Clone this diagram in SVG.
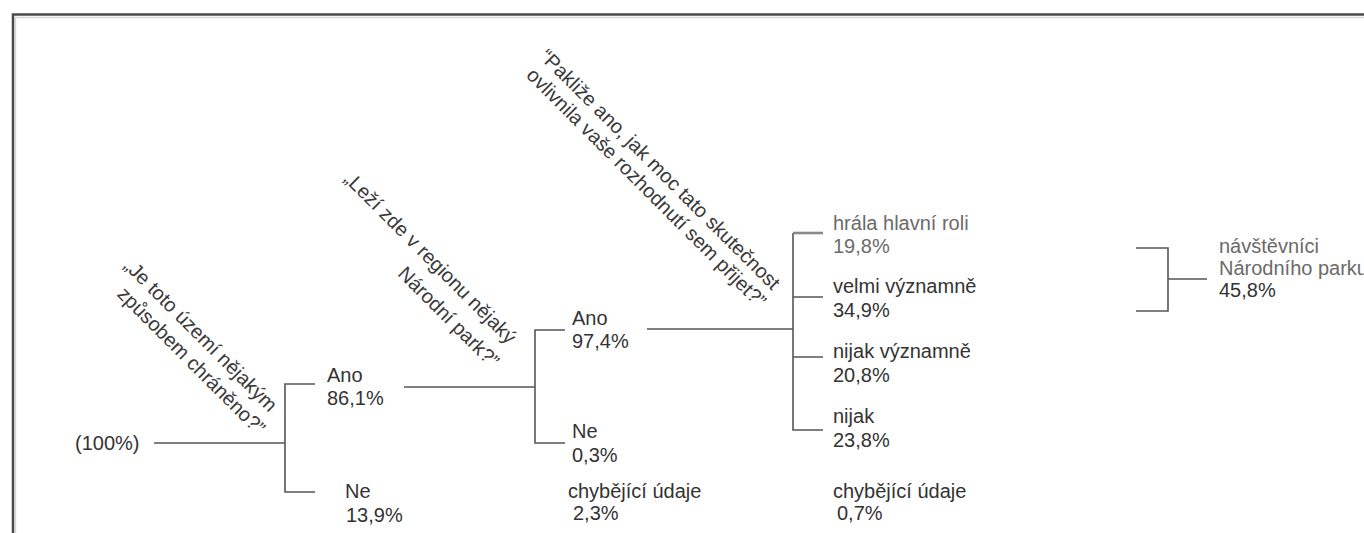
<svg xmlns="http://www.w3.org/2000/svg" width="1364" height="533" viewBox="0 0 1364 533">
<style>
text{font-family:"Liberation Sans",Arial,sans-serif;font-size:20px;fill:#333}
.q{fill:#3a3a3a}
.lt{fill:#6a6a6a}
.ln{fill:none;stroke:#555;stroke-width:1.6}
.ln2{fill:none;stroke:#8a8a8a;stroke-width:2.6}
.fr{fill:none;stroke:#4a4a4a;stroke-width:2.5}
.fr2{fill:none;stroke:#d8d8d8;stroke-width:1.5}
</style>
<rect width="1364" height="533" fill="#fff"/>
<path class="fr2" d="M15.5,533 V17.5 H1364"/>
<path class="fr" d="M13,533 V14.5 H1364"/>

<g id="connectors">
<path class="ln" d="M154,443 H285"/>
<path class="ln" d="M315,384 H285 V492 H315"/>
<path class="ln" d="M404,387 H535"/>
<path class="ln" d="M565,330 H535 V443 H565"/>
<path class="ln" d="M647,329 H793"/>
<path class="ln" d="M793,233 V430 H823"/>
<path class="ln2" d="M793,233 H823"/>
<path class="ln" d="M793,297 H823 M793,357 H823"/>
<path class="ln" d="M1136,248 H1168 V311 H1136 M1168,279 H1207"/>
</g>

<g id="q1">
<text class="q" text-anchor="end" transform="translate(269,413) rotate(45)">„Je toto území nějakým</text>
<text class="q" text-anchor="end" transform="translate(257,436) rotate(45)">způsobem chráněno?”</text>
</g>
<g id="q2">
<text class="q" text-anchor="end" transform="translate(508,345) rotate(45)">„Leží zde v regionu nějaký</text>
<text class="q" text-anchor="end" transform="translate(491,369) rotate(45)">Národní park?”</text>
</g>
<g id="q3">
<text class="q" text-anchor="end" transform="translate(772,291) rotate(45)">“Pakliže ano, jak moc tato skutečnost</text>
<text class="q" text-anchor="end" transform="translate(758,309) rotate(45)">ovlivnila vaše rozhodnutí sem přijet?”</text>
</g>

<g id="root"><text x="75" y="450">(100%)</text></g>
<g id="n-ano1"><text x="327" y="382">Ano</text><text x="327" y="405">86,1%</text></g>
<g id="n-ne1"><text x="345" y="498">Ne</text><text x="346" y="522">13,9%</text></g>
<g id="n-ano2"><text x="572" y="325">Ano</text><text x="572" y="348">97,4%</text></g>
<g id="n-ne2"><text x="572" y="438">Ne</text><text x="572" y="462">0,3%</text></g>
<g id="n-miss2"><text x="568" y="498">chybějící údaje</text><text x="573" y="520">2,3%</text></g>
<g id="n-a1"><text class="lt" x="833" y="230">hrála hlavní roli</text><text class="lt" x="833" y="253">19,8%</text></g>
<g id="n-a2"><text x="833" y="293">velmi významně</text><text x="833" y="317">34,9%</text></g>
<g id="n-a3"><text x="833" y="358">nijak významně</text><text x="833" y="382">20,8%</text></g>
<g id="n-a4"><text x="833" y="423">nijak</text><text x="833" y="447">23,8%</text></g>
<g id="n-miss3"><text x="833" y="498">chybějící údaje</text><text x="837" y="520">0,7%</text></g>
<g id="n-visitors"><text class="lt" x="1219" y="253">návštěvníci</text><text class="lt" x="1219" y="275">Národního parku</text><text x="1219" y="297">45,8%</text></g>
</svg>
